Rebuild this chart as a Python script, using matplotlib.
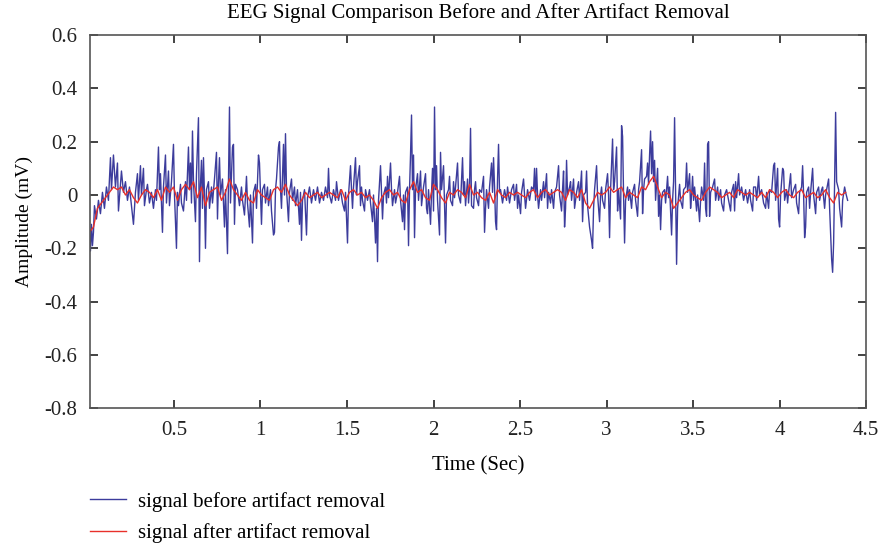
import numpy as np
import matplotlib
matplotlib.use("Agg")
import matplotlib.pyplot as plt
from matplotlib.ticker import FuncFormatter

plt.rcParams['font.family'] = ['Liberation Serif', 'DejaVu Serif']
plt.rcParams['axes.unicode_minus'] = False

# sampling rate of the recording (samples per second)
fs = 173.0

# raw EEG: sample numbers of the turning points and amplitudes (mV)
blue_n = [2, 3, 4, 5, 6, 7, 9, 11, 13, 15,
          17, 19, 21, 23, 24, 26, 28, 30, 31, 33,
          34, 36, 38, 40, 42, 44, 46, 48, 50, 51,
          53, 54, 56, 57, 59, 60, 62, 64, 66, 68,
          69, 71, 72, 73, 75, 76, 78, 79, 81, 82,
          84, 86, 87, 89, 90, 91, 93, 94, 96, 98,
          99, 101, 102, 103, 104, 105, 106, 108, 109, 111,
          112, 113, 114, 115, 116, 117, 118, 119, 121, 122,
          124, 125, 127, 129, 130, 131, 132, 133, 135, 137,
          138, 140, 141, 142, 143, 145, 146, 147, 148, 150,
          152, 154, 155, 157, 158, 159, 160, 162, 163, 165,
          166, 168, 169, 171, 172, 173, 174, 175, 177, 178,
          180, 181, 183, 184, 186, 187, 188, 189, 191, 192,
          193, 194, 196, 197, 198, 199, 201, 202, 204, 205,
          207, 208, 210, 212, 213, 214, 215, 217, 219, 220,
          222, 224, 226, 228, 230, 232, 234, 236, 238, 240,
          241, 242, 244, 246, 248, 249, 251, 253, 255, 257,
          258, 260, 261, 263, 264, 265, 266, 268, 269, 270,
          272, 273, 274, 275, 277, 278, 280, 282, 283, 285,
          286, 288, 289, 290, 291, 293, 294, 295, 296, 298,
          299, 300, 301, 303, 304, 305, 307, 308, 310, 312,
          313, 315, 316, 317, 318, 320, 321, 322, 323, 324,
          325, 326, 327, 328, 330, 331, 333, 334, 336, 338,
          339, 340, 341, 343, 344, 345, 346, 347, 348, 349,
          350, 352, 353, 354, 356, 357, 358, 359, 361, 362,
          363, 365, 366, 367, 368, 370, 371, 373, 375, 376,
          377, 378, 380, 381, 382, 383, 384, 386, 387, 388,
          389, 391, 392, 394, 396, 397, 398, 399, 401, 402,
          404, 405, 406, 407, 408, 409, 410, 411, 412, 413,
          415, 417, 419, 420, 422, 424, 426, 427, 429, 430,
          431, 433, 434, 436, 437, 438, 440, 442, 444, 446,
          447, 448, 449, 450, 451, 453, 454, 456, 457, 459,
          460, 461, 463, 464, 466, 467, 469, 471, 472, 474,
          475, 476, 477, 478, 479, 480, 482, 483, 484, 486,
          487, 489, 491, 492, 494, 495, 496, 498, 499, 500,
          502, 504, 505, 506, 507, 509, 510, 512, 513, 514,
          515, 517, 518, 520, 521, 522, 523, 525, 526, 527,
          529, 530, 531, 533, 534, 535, 536, 537, 538, 540,
          541, 542, 544, 545, 547, 548, 550, 551, 552, 554,
          555, 556, 557, 559, 560, 561, 562, 563, 564, 565,
          566, 567, 568, 570, 571, 572, 573, 574, 575, 577,
          578, 580, 581, 582, 584, 585, 586, 587, 588, 589,
          590, 592, 593, 595, 596, 598, 599, 600, 602, 603,
          604, 605, 606, 607, 609, 610, 612, 613, 614, 616,
          617, 618, 619, 620, 621, 622, 623, 625, 627, 628,
          630, 631, 633, 634, 636, 637, 639, 641, 643, 644,
          646, 647, 648, 649, 651, 652, 654, 656, 658, 660,
          662, 663, 665, 666, 668, 669, 671, 672, 674, 676,
          678, 679, 681, 682, 684, 686, 687, 688, 690, 691,
          692, 693, 695, 696, 697, 699, 700, 701, 703, 704,
          706, 708, 709, 711, 712, 714, 715, 716, 717, 718,
          719, 721, 722, 723, 725, 726, 728, 729, 731, 732,
          734, 735, 737, 738, 740, 741, 742, 744, 745, 746,
          747, 748, 749, 751, 752, 754, 755, 757, 758, 760]

blue_v = [-0.14, -0.21, -0.11, -0.19, -0.14, -0.04, -0.09, -0.02, -0.07, 0.01,
          -0.05, 0.03, -0.02, 0.14, 0.02, 0.15, 0.03, 0.12, -0.06, 0.04,
          0.09, 0.01, 0.05, -0.02, 0.03, -0.04, -0.11, 0.01, 0.08, -0.02,
          0.11, 0.0, 0.10, -0.04, 0.02, 0.04, -0.03, 0.01, -0.05, 0.02,
          -0.02, 0.18, 0.02, 0.08, -0.14, 0.03, 0.15, -0.03, 0.09, -0.04,
          0.05, 0.19, 0.0, -0.20, 0.01, -0.04, 0.04, -0.03, -0.06, 0.05,
          -0.02, 0.18, 0.02, 0.12, -0.03, 0.24, 0.05, -0.10, 0.08, 0.29,
          -0.25, 0.04, 0.13, -0.05, 0.14, 0.0, -0.20, 0.02, 0.05, -0.05,
          0.03, -0.03, 0.06, 0.16, -0.09, 0.05, 0.14, 0.0, 0.06, -0.12,
          0.02, -0.22, 0.05, 0.33, -0.03, 0.18, 0.19, -0.11, 0.04, 0.02,
          -0.04, 0.03, -0.02, -0.075, 0.0, 0.07, -0.03, -0.12, 0.0, -0.18,
          0.01, 0.04, -0.05, 0.15, 0.12, 0.0, -0.11, 0.02, 0.04, -0.03,
          0.03, -0.04, 0.02, -0.06, -0.15, -0.14, 0.02, 0.06, 0.18, 0.20,
          0.02, -0.05, 0.19, 0.0, 0.23, 0.02, -0.10, 0.01, 0.06, -0.02,
          0.03, -0.04, 0.02, -0.11, 0.01, -0.17, -0.02, 0.02, -0.15, -0.01,
          0.03, -0.03, 0.02, -0.02, 0.03, -0.03, 0.01, -0.02, 0.03, -0.01,
          0.10, 0.0, -0.03, 0.02, -0.02, 0.05, -0.02, 0.02, -0.03, -0.06,
          0.01, -0.18, 0.0, 0.11, 0.02, -0.05, 0.03, 0.14, 0.0, 0.05,
          0.11, -0.04, 0.03, -0.02, -0.06, 0.02, -0.02, 0.02, -0.03, -0.10,
          0.0, -0.18, -0.05, -0.25, -0.02, 0.11, 0.01, -0.09, 0.0, 0.03,
          -0.03, 0.07, -0.01, 0.12, 0.02, -0.04, 0.02, -0.03, 0.01, 0.07,
          -0.02, -0.10, 0.0, -0.13, 0.01, 0.03, -0.19, 0.02, 0.15, 0.30,
          0.02, 0.15, -0.16, 0.02, 0.08, -0.02, 0.09, -0.04, 0.03, 0.08,
          -0.05, -0.07, 0.02, -0.11, 0.01, 0.10, -0.06, 0.33, 0.02, 0.11,
          -0.02, -0.15, 0.16, 0.02, 0.11, -0.03, -0.18, 0.0, 0.02, 0.07,
          -0.02, -0.04, 0.05, -0.01, 0.03, 0.12, 0.0, -0.03, 0.14, 0.0,
          0.05, -0.04, 0.06, -0.03, 0.03, 0.25, -0.04, -0.05, 0.02, 0.05,
          -0.01, -0.04, 0.02, 0.01, 0.07, -0.14, -0.05, 0.02, -0.05, 0.03,
          0.12, 0.01, 0.14, 0.03, -0.10, -0.13, 0.06, 0.19, 0.01, 0.02,
          -0.03, 0.02, -0.02, 0.03, -0.03, 0.02, 0.04, -0.02, 0.04, -0.05,
          0.0, -0.07, 0.01, 0.06, 0.0, -0.05, 0.02, -0.02, 0.03, 0.02,
          0.10, -0.02, 0.10, 0.0, -0.05, 0.02, -0.02, 0.05, -0.01, 0.08,
          -0.05, 0.01, -0.03, 0.02, -0.05, 0.01, 0.03, 0.11, 0.0, -0.06,
          0.02, 0.09, -0.12, -0.05, 0.13, 0.0, 0.03, 0.05, -0.02, 0.06,
          -0.05, 0.01, 0.05, -0.02, 0.09, -0.10, 0.0, 0.01, 0.09, -0.04,
          -0.12, -0.17, -0.20, -0.05, 0.02, 0.11, 0.0, -0.10, 0.0, 0.03,
          -0.02, -0.05, 0.02, 0.08, 0.0, -0.16, 0.02, 0.21, 0.02, 0.05,
          0.18, -0.06, 0.02, -0.09, 0.26, 0.22, 0.0, -0.18, -0.02, 0.03,
          -0.02, 0.02, -0.05, 0.01, 0.04, -0.02, -0.08, 0.02, 0.05, 0.17,
          -0.07, 0.02, 0.06, 0.07, 0.12, 0.04, 0.15, 0.24, 0.08, 0.20,
          0.05, 0.13, -0.02, 0.10, -0.08, 0.0, -0.13, -0.02, 0.01, 0.02,
          -0.03, 0.07, -0.01, 0.03, -0.15, -0.02, 0.05, 0.29, 0.0, -0.26,
          -0.05, 0.04, -0.02, -0.05, 0.02, 0.03, 0.12, 0.01, 0.08, -0.05,
          0.0, 0.07, -0.02, 0.03, -0.06, 0.0, -0.10, -0.02, 0.03, -0.02,
          0.12, -0.05, -0.08, 0.19, 0.20, -0.08, 0.01, 0.03, 0.06, -0.02,
          0.03, -0.02, 0.02, -0.03, -0.06, 0.0, 0.02, -0.02, -0.06, 0.01,
          0.04, -0.06, 0.05, -0.01, 0.08, 0.0, 0.03, -0.02, 0.02, -0.03,
          0.02, -0.02, -0.06, 0.03, 0.03, -0.02, 0.07, 0.0, 0.02, -0.03,
          -0.05, 0.01, -0.05, 0.02, 0.01, 0.11, 0.12, -0.02, 0.10, -0.09,
          -0.12, 0.0, 0.10, 0.09, -0.02, 0.02, -0.03, 0.01, 0.08, -0.01,
          0.02, 0.04, -0.03, -0.07, 0.01, 0.03, 0.11, 0.0, -0.16, -0.12,
          0.01, 0.03, -0.05, 0.01, 0.10, 0.0, -0.07, 0.01, 0.03, -0.02,
          0.02, 0.03, -0.05, 0.0, 0.04, 0.06, -0.05, -0.24, -0.29, -0.18,
          0.05, 0.31, 0.05, 0.02, -0.05, -0.12, -0.02, 0.03, 0.01, -0.02]

# cleaned EEG, every 4th sample from sample 2
red_n = np.arange(2, 762, 4)
red_v = [-0.14, -0.12, -0.05, -0.03, -0.01, 0.01, 0.03, 0.02, 0.03, 0.0,
         0.02, -0.01, -0.03, 0.0, 0.02, 0.01, -0.01, 0.02, -0.02, 0.03,
         0.01, 0.03, -0.02, 0.02, 0.04, 0.02, 0.05, -0.01, 0.03, -0.04,
         0.01, 0.02, 0.03, -0.02, 0.01, 0.06, 0.02, 0.0, -0.02, 0.01,
         -0.02, -0.03, 0.02, 0.0, -0.01, -0.02, 0.02, 0.03, 0.01, 0.04,
         0.0, -0.02, -0.04, -0.02, 0.01, -0.01, 0.0, 0.01, -0.01, 0.0,
         0.01, 0.0, -0.01, 0.02, -0.02, 0.01, 0.02, 0.0, 0.01, -0.01,
         0.0, -0.02, -0.05, -0.01, 0.01, 0.02, 0.0, 0.01, -0.02, -0.03,
         0.02, 0.05, 0.01, 0.02, -0.01, -0.02, 0.04, 0.02, -0.01, -0.03,
         0.01, 0.0, 0.02, 0.01, -0.01, 0.04, 0.0, 0.01, -0.01, -0.02,
         0.01, -0.03, 0.02, 0.0, -0.01, 0.01, 0.0, 0.01, 0.0, -0.01,
         0.01, 0.02, -0.01, 0.01, 0.02, 0.0, 0.01, 0.02, 0.01, -0.02,
         0.02, 0.01, -0.01, 0.02, -0.03, -0.05, -0.02, 0.01, 0.0, 0.01,
         0.03, 0.01, 0.02, 0.03, -0.01, 0.01, 0.0, -0.01, 0.03, 0.02,
         0.05, 0.07, 0.03, -0.01, 0.01, 0.0, -0.05, -0.03, -0.01, 0.01,
         0.02, 0.0, -0.01, -0.02, 0.01, 0.03, 0.02, 0.01, -0.01, 0.0,
         0.01, -0.01, 0.02, 0.01, 0.0, 0.01, 0.0, -0.01, 0.01, -0.01,
         0.02, 0.01, -0.01, 0.01, 0.02, 0.0, -0.01, 0.01, 0.02, -0.01,
         0.0, 0.01, -0.01, 0.0, 0.02, -0.01, -0.03, 0.01, 0.0, 0.01]

t_blue = np.array(blue_n) / fs
t_red = red_n / fs

fig = plt.figure(figsize=(8.82, 5.48), dpi=100)
ax = fig.add_axes([0.102, 0.255, 0.880, 0.681])

ax.plot(t_blue, blue_v, color='#3c3c9c', linewidth=1.0,
        label='signal before artifact removal')
ax.plot(t_red, red_v, color='#e8302a', linewidth=1.0,
        label='signal after artifact removal')

ax.set_xlim(0.0145, 4.5)
ax.set_ylim(-0.8, 0.6)
ax.set_xticks([0.5, 1, 1.5, 2, 2.5, 3, 3.5, 4, 4.5])
ax.set_yticks(np.arange(-0.8, 0.61, 0.2))
fmt = FuncFormatter(lambda v, p: f"{v:g}" if abs(v) > 1e-9 else "0")
ax.xaxis.set_major_formatter(fmt)
ax.yaxis.set_major_formatter(fmt)
ax.tick_params(direction='in', length=6, width=1.2, top=True, right=True,
               labelsize=15, colors='#222222', pad=9)
ax.tick_params(axis='x', pad=9)
for s in ax.spines.values():
    s.set_linewidth(1.2)
    s.set_color('#555555')

ax.set_title('EEG Signal Comparison Before and After Artifact Removal',
             fontsize=15, pad=12)
ax.set_xlabel('Time (Sec)', fontsize=15, labelpad=12)
ax.set_ylabel('Amplitude (mV)', fontsize=14, labelpad=8)

fig.legend(loc='upper left', bbox_to_anchor=(0.093, 0.118), frameon=False,
           fontsize=15, handlelength=1.7, handletextpad=0.6,
           borderaxespad=0, labelspacing=0.55)

plt.savefig('out.png', dpi=100)
